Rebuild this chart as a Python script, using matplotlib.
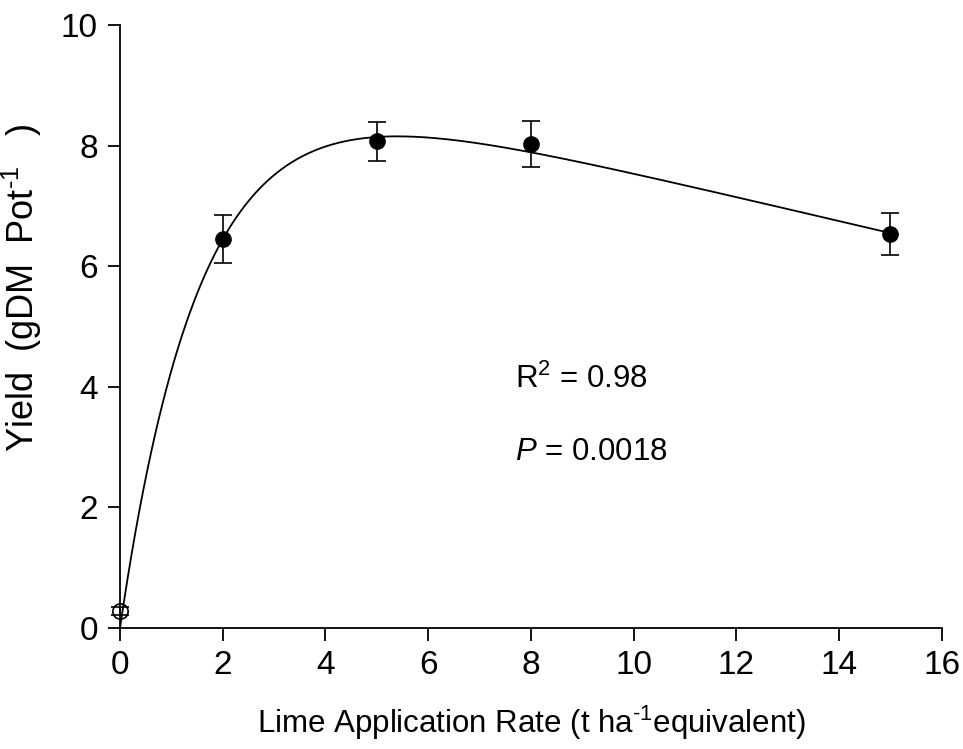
import numpy as np
import matplotlib
matplotlib.use("Agg")
import matplotlib.pyplot as plt

plt.rcParams['font.family'] = ['Liberation Sans', 'DejaVu Sans']
plt.rcParams['mathtext.fontset'] = 'custom'
plt.rcParams['mathtext.rm'] = 'Liberation Sans'
plt.rcParams['mathtext.it'] = 'Liberation Sans:italic'

# Data
lime_rate = [2, 5, 8, 15]
yield_mean = [6.45, 8.07, 8.02, 6.53]
yield_err = [0.40, 0.32, 0.38, 0.35]
control_rate = [0]
control_yield = [0.28]
control_err = [0.06]

# Fitted curve parameters: y = a*(1 - exp(-b x)) - c x
fit_a, fit_b, fit_c = 9.55, 0.631, 0.20
x_ticks = [0, 2, 4, 6, 8, 10, 12, 14, 16]
y_ticks = [0, 2, 4, 6, 8, 10]

FS = 24
FS_LAB = 22.5
FS_YLAB = 26

fig = plt.figure(figsize=(9.63, 7.49), dpi=100)
ax = fig.add_axes([0.1246, 0.1616, 0.8534, 0.805])

xf = np.linspace(0, 15, 400)
yf = fit_a * (1 - np.exp(-fit_b * xf)) - fit_c * xf
ax.plot(xf, yf, color='black', lw=1.3, zorder=2)

ax.errorbar(lime_rate, yield_mean, yerr=yield_err, fmt='o', color='black',
            ms=11, capsize=6.5, elinewidth=1.2, capthick=1.2, zorder=3)
ax.errorbar(control_rate, control_yield, yerr=control_err, fmt='o', mfc='none',
            mec='black', ecolor='black', ms=11, mew=1.2, capsize=6.5, elinewidth=1.2,
            capthick=1.2, zorder=4, clip_on=False)

ax.set_xlim(0, 16)
ax.set_ylim(0, 10)
ax.set_xticks(x_ticks)
ax.set_yticks(y_ticks)
ax.spines['top'].set_visible(False)
ax.spines['right'].set_visible(False)
for s in ['left', 'bottom']:
    ax.spines[s].set_linewidth(1.3)
ax.tick_params(direction='out', length=9, width=1.3, labelsize=FS, pad=7)

ax.set_xlabel('Lime Application Rate (t ha$^{\\text{-1}}$equivalent)', fontsize=FS_LAB, labelpad=16)
ax.set_ylabel('Yield  (gDM  Pot$^{\\text{-1}}$   )', fontsize=FS_YLAB)
ax.yaxis.set_label_coords(-0.092, 0.564)

ax.text(7.69, 4.12, 'R$^{2}$ = 0.98', fontsize=FS_LAB, va='center', ha='left')
ax.text(7.69, 2.92, '$\\mathit{P}$ = 0.0018', fontsize=FS_LAB, va='center', ha='left')

fig.savefig('out.png', dpi=100)
